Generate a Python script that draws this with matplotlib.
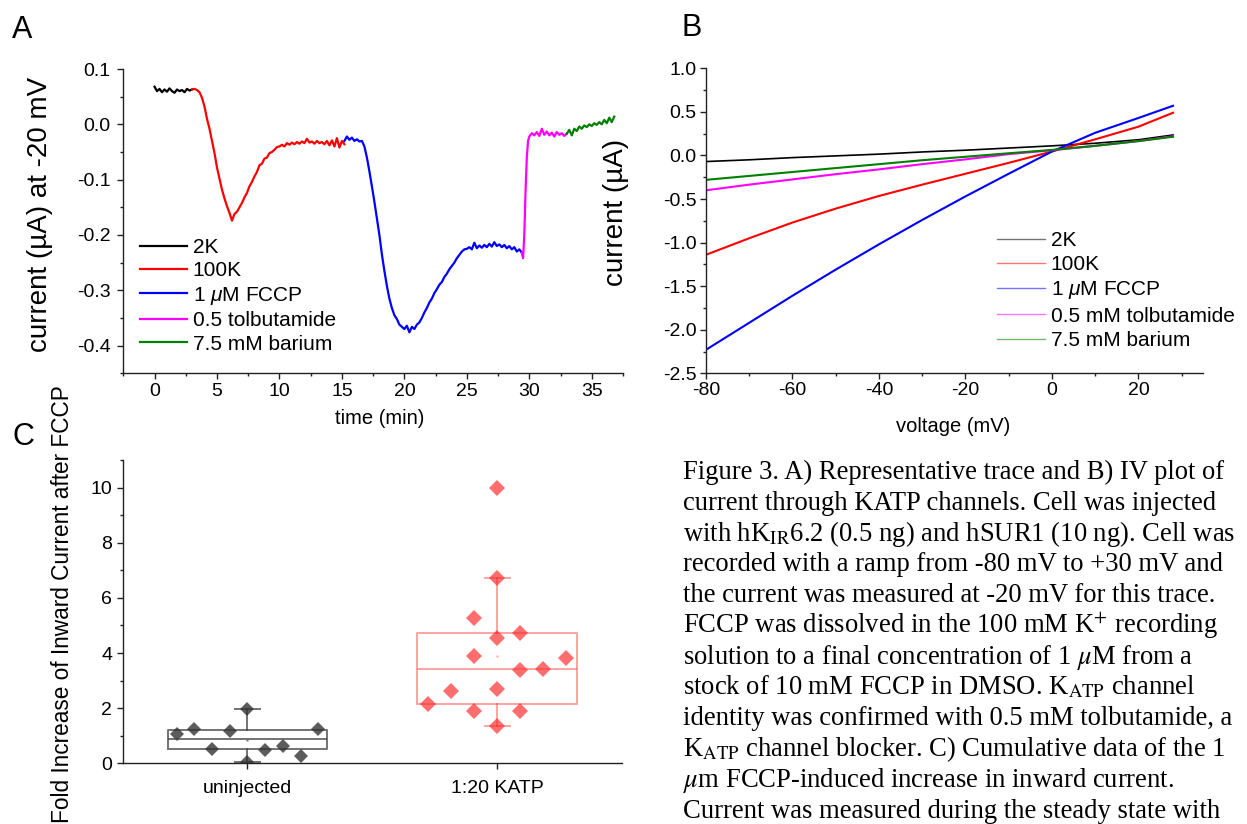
import numpy as np
import matplotlib
matplotlib.use('Agg')
import matplotlib.pyplot as plt
from matplotlib.ticker import MultipleLocator
from matplotlib.lines import Line2D

plt.rcParams['font.family'] = ['Liberation Sans', 'DejaVu Sans']
plt.rcParams['mathtext.fontset'] = 'custom'
plt.rcParams['mathtext.rm'] = 'Liberation Sans'
plt.rcParams['mathtext.it'] = 'Liberation Sans:italic'
plt.rcParams['axes.unicode_minus'] = False

# ---------------- data, panel A (current at -20 mV vs time) ----------------
t_2k = np.linspace(0.0, 3.0, 16)
i_2k = [0.068, 0.060, 0.064, 0.058, 0.063, 0.059, 0.065, 0.060, 0.057, 0.063,
        0.060, 0.062, 0.058, 0.064, 0.061, 0.063]
t_100k = np.linspace(3.0, 15.2, 62)
i_100k = [0.063, 0.064, 0.062, 0.058, 0.048, 0.032, 0.010, -0.008, -0.030, -0.052,
          -0.078, -0.098, -0.118, -0.134, -0.148, -0.160, -0.174, -0.162, -0.158, -0.150,
          -0.142, -0.132, -0.124, -0.112, -0.104, -0.094, -0.086, -0.074, -0.071, -0.062,
          -0.060, -0.052, -0.050, -0.046, -0.041, -0.040, -0.037, -0.040, -0.034, -0.037,
          -0.033, -0.036, -0.032, -0.035, -0.031, -0.034, -0.026, -0.033, -0.031, -0.035,
          -0.030, -0.034, -0.032, -0.036, -0.030, -0.038, -0.029, -0.040, -0.025, -0.042,
          -0.030, -0.036]
t_fccp = np.linspace(15.2, 29.4, 72)
i_fccp = [-0.030, -0.022, -0.028, -0.024, -0.030, -0.027, -0.031, -0.030, -0.040,
          -0.060, -0.085, -0.112, -0.140, -0.170, -0.200, -0.235, -0.265, -0.292, -0.315,
          -0.332, -0.345, -0.352, -0.362, -0.366, -0.370, -0.364, -0.376, -0.366, -0.370,
          -0.362, -0.358, -0.350, -0.340, -0.332, -0.322, -0.315, -0.305, -0.298, -0.290,
          -0.285, -0.276, -0.270, -0.262, -0.256, -0.250, -0.242, -0.236, -0.230, -0.226,
          -0.225, -0.222, -0.226, -0.214, -0.224, -0.219, -0.223, -0.218, -0.222, -0.216,
          -0.221, -0.213, -0.220, -0.217, -0.222, -0.218, -0.224, -0.220, -0.226, -0.222,
          -0.230, -0.226, -0.232]
t_tolb = [29.4, 29.5, 29.6, 29.7, 29.8, 29.9, 30.0, 30.2, 30.4, 30.6, 30.8, 31.0,
          31.2, 31.4, 31.6, 31.8, 32.0, 32.2, 32.4, 32.6, 32.8, 33.0]
i_tolb = [-0.232, -0.242, -0.200, -0.120, -0.060, -0.030, -0.022, -0.016, -0.020, -0.014,
          -0.021, -0.008, -0.019, -0.013, -0.020, -0.015, -0.022, -0.014, -0.019, -0.016,
          -0.021, -0.017]
t_ba = np.linspace(33.0, 36.8, 20)
i_ba = [-0.017, -0.010, -0.020, -0.008, -0.012, -0.004, -0.008, -0.002, -0.005, 0.000,
        -0.003, 0.002, -0.001, 0.004, 0.000, 0.008, 0.002, 0.012, 0.004, 0.014]
labels_A = ['2K', '100K', r'1 $\mu$M FCCP', '0.5 tolbutamide', '7.5 mM barium']

# ---------------- data, panel B (IV curves) ----------------
volt = [-80, -70, -60, -50, -40, -30, -20, -10, 0, 10, 20, 28]
iv_2k = [-0.07, -0.05, -0.025, -0.005, 0.015, 0.04, 0.06, 0.085, 0.11, 0.14, 0.18, 0.235]
iv_100k = [-1.14, -0.95, -0.77, -0.61, -0.465, -0.335, -0.21, -0.085, 0.045, 0.185, 0.33, 0.49]
iv_fccp = [-2.23, -1.92, -1.61, -1.31, -1.02, -0.74, -0.47, -0.21, 0.045, 0.26, 0.43, 0.57]
iv_tolb = [-0.40, -0.335, -0.275, -0.215, -0.16, -0.10, -0.045, 0.015, 0.06, 0.11, 0.165, 0.22]
iv_ba = [-0.28, -0.235, -0.19, -0.145, -0.10, -0.055, -0.015, 0.025, 0.063, 0.11, 0.165, 0.215]
labels_B = ['2K', '100K', r'1 $\mu$M FCCP', '0.5 mM tolbutamide', '7.5 mM barium']

# ---------------- data, panel C (fold increase) ----------------
groups = ['uninjected', '1:20 KATP']
unj_vals = [1.06, 1.23, 0.51, 1.17, 1.98, 0.05, 0.49, 0.63, 0.27, 1.23]
unj_col = [-4, -3, -2, -1, 0, 0, 1, 2, 3, 4]
katp_vals = [10.0, 6.71, 5.28, 4.56, 4.72, 3.89, 3.83, 3.39, 3.41, 2.64, 2.68, 2.15,
             1.90, 1.90, 1.35]
katp_col = [0, 0, -1, 0, 1, -1, 3, 1, 2, -2, 0, -3, -1, 1, 0]
box_q1 = [0.53, 2.15]
box_med = [0.87, 3.42]
box_q3 = [1.20, 4.72]
whisk_lo = [0.05, 1.35]
whisk_hi = [1.98, 6.71]
box_mean = [0.86, 3.89]

caption = [
    'Figure 3. A) Representative trace and B) IV plot of',
    'current through KATP channels. Cell was injected',
    r'with hK$_{\mathrm{IR}}$6.2 (0.5 ng) and hSUR1 (10 ng). Cell was',
    'recorded with a ramp from -80 mV to +30 mV and',
    'the current was measured at -20 mV for this trace.',
    r'FCCP was dissolved in the 100 mM K$^{+}$ recording',
    r'solution to a final concentration of 1 $\mu$M from a',
    r'stock of 10 mM FCCP in DMSO. K$_{\mathrm{ATP}}$ channel',
    'identity was confirmed with 0.5 mM tolbutamide, a',
    r'K$_{\mathrm{ATP}}$ channel blocker. C) Cumulative data of the 1',
    r'$\mu$m FCCP-induced increase in inward current.',
    'Current was measured during the steady state with',
]

colors = ['#000000', '#ff0000', '#0000ff', '#ff00ff', '#008000']

W, H = 1247, 824
fig = plt.figure(figsize=(W / 100, H / 100), dpi=100)


def fx(x):
    return x / W


def fy(y):
    return 1 - y / H


def add_ax(l, t, r, b):
    return fig.add_axes([l / W, 1 - b / H, (r - l) / W, (b - t) / H])


def style(ax, padx, pady):
    for s in ['top', 'right']:
        ax.spines[s].set_visible(False)
    for s in ['left', 'bottom']:
        ax.spines[s].set_linewidth(1.0)
        ax.spines[s].set_color('#222222')
    ax.tick_params(which='major', direction='out', length=4, width=1,
                   labelsize=14, color='#222222')
    ax.tick_params(which='minor', direction='out', length=2.2, width=1,
                   color='#222222')
    ax.tick_params(axis='x', pad=padx)
    ax.tick_params(axis='y', pad=pady)


# ---------------- panel A ----------------
axA = add_ax(123.3, 69, 623, 373.3)
segs = [(t_2k, i_2k), (t_100k, i_100k), (t_fccp, i_fccp), (t_tolb, i_tolb), (t_ba, i_ba)]
for (t, v), c, lab in zip(segs, colors, labels_A):
    axA.plot(t, v, color=c, lw=1.6, label=lab)
axA.set_xlim(-2.5, 37.5)
axA.set_ylim(-0.45, 0.1)
axA.xaxis.set_major_locator(MultipleLocator(5))
axA.xaxis.set_minor_locator(MultipleLocator(2.5))
axA.yaxis.set_major_locator(MultipleLocator(0.1))
axA.yaxis.set_minor_locator(MultipleLocator(0.05))
axA.yaxis.set_major_formatter(plt.FormatStrFormatter('%.1f'))
style(axA, 3, 5)
axA.legend(loc='upper left', bbox_to_anchor=(fx(140), fy(238)),
           bbox_transform=fig.transFigure, frameon=False, fontsize=15,
           borderpad=0, borderaxespad=0, handlelength=2.26,
           handletextpad=0.27, labelspacing=0.21)

# ---------------- panel B ----------------
axB = add_ax(706, 68.3, 1203.3, 373.3)
for v, c in zip([iv_2k, iv_100k, iv_fccp, iv_tolb, iv_ba], colors):
    axB.plot(volt, v, color=c, lw=1.5 if c != '#000000' else 1.2)
axB.set_xlim(-80, 35)
axB.set_ylim(-2.5, 1.0)
axB.xaxis.set_major_locator(MultipleLocator(20))
axB.xaxis.set_minor_locator(MultipleLocator(10))
axB.yaxis.set_major_locator(MultipleLocator(0.5))
axB.yaxis.set_minor_locator(MultipleLocator(0.25))
axB.yaxis.set_major_formatter(plt.FormatStrFormatter('%.1f'))
style(axB, 2, 3)
handles = [Line2D([], [], color=c, lw=1.0, alpha=0.55) for c in colors]
axB.legend(handles, labels_B, loc='upper left', bbox_to_anchor=(fx(997), fy(231)),
           bbox_transform=fig.transFigure, frameon=False, fontsize=15,
           borderpad=0, borderaxespad=0, handlelength=2.3,
           handletextpad=0.27, labelspacing=0.25)

# ---------------- panel C ----------------
axC = add_ax(122.7, 460, 621.8, 763.3)
box_colors = ['#444444', '#ff3333']
stats = []
for k in range(2):
    stats.append(dict(med=box_med[k], q1=box_q1[k], q3=box_q3[k],
                      whislo=whisk_lo[k], whishi=whisk_hi[k], mean=box_mean[k], fliers=[]))
for k in range(2):
    c = box_colors[k]
    a = 0.75 if k == 0 else 0.45
    axC.bxp([stats[k]], positions=[k], widths=0.64, showmeans=True,
            capwidths=[0.1], patch_artist=False,
            boxprops=dict(color=c, lw=1.4, alpha=a),
            medianprops=dict(color=c, lw=1.4, alpha=a),
            whiskerprops=dict(color=c, lw=1.4, alpha=a),
            capprops=dict(color=c, lw=1.4, alpha=a),
            meanprops=dict(marker='s', markersize=2, markerfacecolor=c,
                           markeredgecolor='none', alpha=a))
unj_x = [0 + 0.071 * c for c in unj_col]
katp_x = [1 + 0.092 * c for c in katp_col]
axC.plot(unj_x, unj_vals, 'D', color='#333333', alpha=0.8, markersize=7.5,
         markeredgewidth=0)
axC.plot(katp_x, katp_vals, 'D', color='#ff2a2a', alpha=0.68, markersize=8,
         markeredgewidth=0)
axC.set_xlim(-0.5, 1.5)
axC.set_ylim(0, 11)
axC.set_xticks([0, 1])
axC.set_xticklabels(groups, fontsize=15.8)
axC.yaxis.set_major_locator(MultipleLocator(2))
axC.yaxis.set_minor_locator(MultipleLocator(1))
style(axC, 7.5, 3.6)
axC.tick_params(axis='x', length=4.5)

# ---------------- labels and caption ----------------
fig.text(fx(12), fy(38), 'A', fontsize=22, va='baseline')
fig.text(fx(682), fy(36), 'B', fontsize=22, va='baseline')
fig.text(fx(12), fy(445), 'C', fontsize=22, va='baseline')
fig.text(fx(40), fy(214), 'current (µA) at -20 mV', rotation=90, fontsize=20,
         ha='center', va='center')
fig.text(fx(616), fy(212), 'current (µA)', rotation=90, fontsize=20,
         ha='center', va='center')
fig.text(fx(380), fy(418), 'time (min)', fontsize=14.5, ha='center', va='center')
fig.text(fx(953), fy(426), 'voltage (mV)', fontsize=14.5, ha='center', va='center')
fig.text(fx(63), fy(604), 'Fold Increase of Inward Current after FCCP', rotation=90,
         fontsize=16.3, ha='center', va='center')

for k, line in enumerate(caption):
    fig.text(fx(683), fy(479 + k * 30.8), line, fontsize=19.2, va='baseline',
             family=['Liberation Serif', 'DejaVu Serif'], math_fontfamily='stix')

fig.savefig('out.png', dpi=100)
